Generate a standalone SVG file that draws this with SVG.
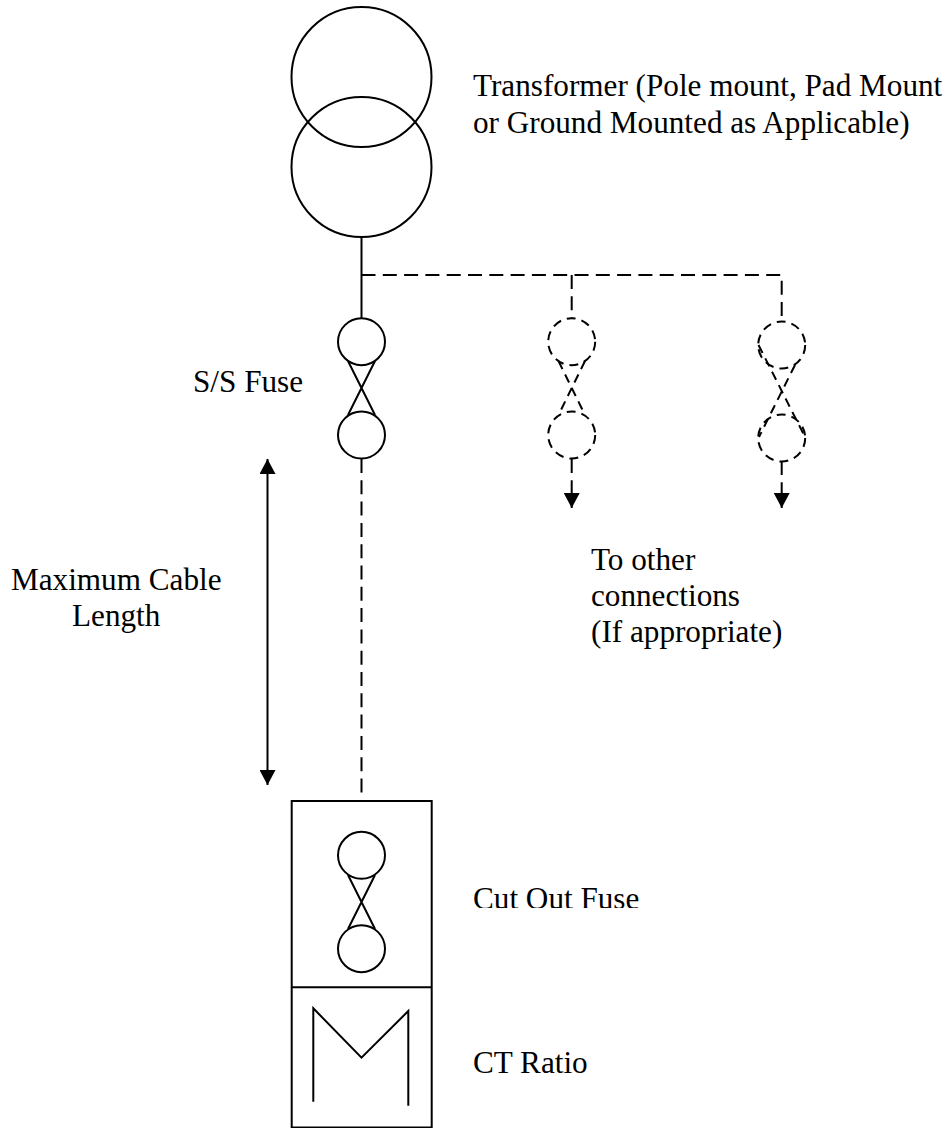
<svg xmlns="http://www.w3.org/2000/svg" width="950" height="1128" viewBox="0 0 950 1128">
<style>
.s{fill:none;stroke:#000;stroke-width:2}
.d{fill:none;stroke:#000;stroke-width:2;stroke-dasharray:14 7.3}
.c{fill:none;stroke:#000;stroke-width:2;stroke-dasharray:9 6}
.t{font-family:"Liberation Serif","Times New Roman",serif;font-size:31.2px;fill:#000}
</style>
<defs>
<marker id="a" markerWidth="16" markerHeight="16" refX="15" refY="8" orient="auto-start-reverse" markerUnits="userSpaceOnUse"><path d="M0 0L15 8L0 16Z" fill="#000"/></marker>
<clipPath id="cut"><rect x="460" y="870" width="300" height="38"/></clipPath>
</defs>
<rect width="950" height="1128" fill="#fff"/>
<g id="connectors">
<path class="s" d="M361.5 237V318"/>
<path class="d" d="M361.5 275H781.7V322"/>
<path class="d" d="M571.7 275V318"/>
<path class="d" d="M361.5 459V793"/>
<path class="d" d="M571.7 459V508" marker-end="url(#a)"/>
<path class="d" d="M781.7 461V508" marker-end="url(#a)"/>
<path class="s" d="M267.5 459V785" marker-start="url(#a)" marker-end="url(#a)"/>
</g>
<g id="transformer">
<circle class="s" cx="361.5" cy="77" r="70"/>
<circle class="s" cx="361.5" cy="167" r="70"/>
</g>
<g id="ss-fuse">
<circle class="s" cx="361.5" cy="341.7" r="23.5"/>
<circle class="s" cx="361.5" cy="435" r="23.5"/>
<path class="s" d="M348 361L375 415M375 361L348 415"/>
</g>
<g id="fuse-2">
<circle class="c" cx="571.7" cy="341.7" r="23.5"/>
<circle class="c" cx="571.7" cy="435" r="23.5"/>
<path class="c" d="M558.5 361L585 415M585 361L558.5 415"/>
</g>
<g id="fuse-3">
<circle class="c" cx="781.7" cy="345" r="23.5"/>
<circle class="c" cx="781.7" cy="438" r="23.5"/>
<path class="c" d="M758.5 345L805 437M795 365L759 437"/>
</g>
<g id="meter-box">
<rect class="s" x="291.7" y="801" width="140" height="326.5"/>
<path class="s" d="M291.7 987.3H431.7"/>
<circle class="s" cx="361.5" cy="855.3" r="23.5"/>
<circle class="s" cx="361.5" cy="948.7" r="23.5"/>
<path class="s" d="M348 875L375 929M375 875L348 929"/>
<path class="s" d="M313.3 1101.7V1008.3L361.5 1057.7L408.3 1011V1105.7"/>
</g>
<g id="labels">
<text class="t" x="473" y="96">Transformer (Pole mount, Pad Mount</text>
<text class="t" x="473" y="133">or Ground Mounted as Applicable)</text>
<text class="t" x="193" y="392">S/S Fuse</text>
<text class="t" x="11" y="590">Maximum Cable</text>
<text class="t" x="72" y="626">Length</text>
<text class="t" x="591" y="570">To other</text>
<text class="t" x="591" y="606">connections</text>
<text class="t" x="591" y="642">(If appropriate)</text>
<text class="t" x="473" y="909" clip-path="url(#cut)">Cut Out Fuse</text>
<text class="t" x="473" y="1073">CT Ratio</text>
</g>
</svg>
